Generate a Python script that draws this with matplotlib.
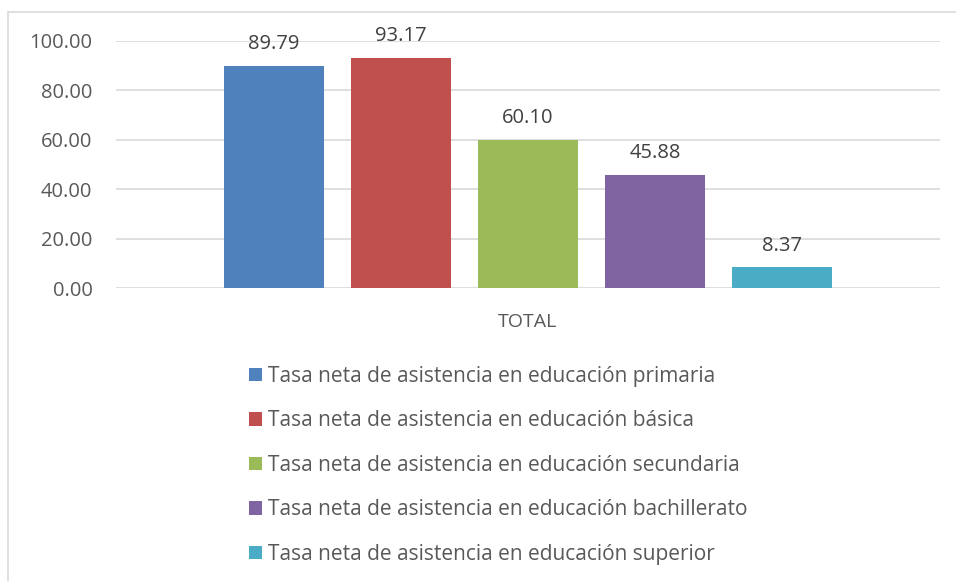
import matplotlib.pyplot as plt
from matplotlib.patches import Rectangle, Patch

# datos
categoria = "TOTAL"
series = [
    "Tasa neta de asistencia en educación primaria",
    "Tasa neta de asistencia en educación básica",
    "Tasa neta de asistencia en educación secundaria",
    "Tasa neta de asistencia en educación bachillerato",
    "Tasa neta de asistencia en educación superior",
]
valores = [89.79, 93.17, 60.10, 45.88, 8.37]
colores = ["#4f81bd", "#c0504d", "#9bbb59", "#8064a2", "#4bacc6"]
y_ticks = [0, 20, 40, 60, 80, 100]

plt.rcParams['font.family'] = ['Open Sans', 'DejaVu Sans']
texto = "#595959"

fig = plt.figure(figsize=(9.56, 5.81), dpi=100)

# marco del grafico (recortado)
fig.patches.append(Rectangle((8 / 956, -0.1), 1.0, 1 - 12 / 581 + 0.1,
                             transform=fig.transFigure, fill=False,
                             edgecolor="#d9d9d9", linewidth=1.2))

ax = fig.add_axes([116 / 956, 1 - 288 / 581, 824 / 956, 247 / 581])

ancho = 100 / 127
n = len(valores)
for i in range(n):
    x = i - (n - 1) / 2
    ax.bar(x, valores[i], width=ancho, color=colores[i], zorder=3)
    ax.annotate("%.2f" % valores[i], (x, valores[i]), xytext=(0, 8.5),
                textcoords="offset points", ha="center", va="bottom",
                fontsize=14.5, color="#404040")

ax.set_xlim(-824 / 127 / 2, 824 / 127 / 2)
ax.set_ylim(0, 100)
ax.set_yticks(y_ticks)
ax.set_yticklabels(["%.2f" % v for v in y_ticks], fontsize=14.5, color=texto)
ax.set_xticks([0])
ax.set_xticklabels([categoria], fontsize=14, color=texto)
ax.tick_params(axis="both", length=0)
ax.tick_params(axis="y", pad=17)
ax.tick_params(axis="x", pad=18)
ax.grid(axis="y", color="#d9d9d9", linewidth=1.2, zorder=0)
for s in ax.spines.values():
    s.set_visible(False)

handles = [Patch(facecolor=c, edgecolor="none") for c in colores]
fig.legend(handles, series, loc="upper left", bbox_to_anchor=(230 / 956, 1 - 347 / 581),
           frameon=False, fontsize=15, labelcolor=texto, handlelength=0.62,
           handleheight=0.62, handletextpad=0.3, labelspacing=1.13)

fig.savefig("out.png", dpi=100)
